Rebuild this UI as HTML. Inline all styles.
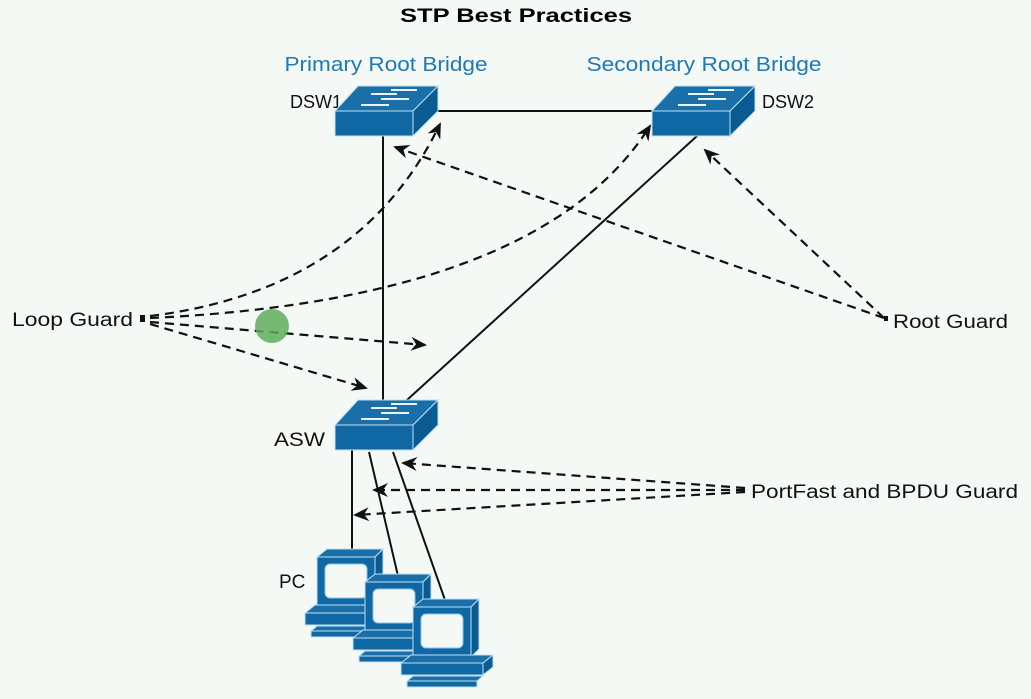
<!DOCTYPE html>
<html><head><meta charset="utf-8"><style>
html,body{margin:0;padding:0;background:#f5f9f5;}
svg{display:block;font-family:"Liberation Sans",sans-serif;}
</style></head><body>
<svg width="1031" height="699" viewBox="0 0 1031 699" xmlns="http://www.w3.org/2000/svg">
<defs>
<marker id="ah" markerWidth="16" markerHeight="14" refX="14" refY="7" orient="auto" markerUnits="userSpaceOnUse" viewBox="0 0 16 14">
<path d="M0,0 L16,7 L0,14 L5,7 Z" fill="#111"/></marker>
<g id="sw">
<polygon points="0,25 23,0 103,0 78,25" fill="#1a6fa8" stroke="#bfe0f5" stroke-width="1"/>
<polygon points="0,25 78,25 78,50 0,50" fill="#0f67a3" stroke="#bfe0f5" stroke-width="1"/>
<polygon points="78,25 103,0 103,25 78,50" fill="#0b5b93" stroke="#bfe0f5" stroke-width="1"/>
<g stroke="#e8f4fb" stroke-width="2" fill="none">
<path d="M36,8 L62,8 M46,13 L74,13 M26,19 L54,19 M56,4 L82,4"/>
</g>
</g>
<g id="pc">
<polygon points="10,0 68,0 76,-8 20,-8" fill="#1a6fa8" stroke="#bfe0f5"/>
<rect x="10" y="0" width="58" height="50" fill="#0f67a3" stroke="#bfe0f5"/>
<polygon points="68,0 76,-8 76,42 68,50" fill="#0b5b93" stroke="#bfe0f5"/>
<rect x="18" y="7" width="42" height="34" rx="5" fill="#f5f9f5" stroke="#8cc6ea"/>
<polygon points="-2,56 80,56 90,48 8,48" fill="#1a6fa8" stroke="#bfe0f5"/>
<rect x="-2" y="56" width="82" height="12" fill="#0f67a3" stroke="#bfe0f5"/>
<polygon points="80,56 90,48 90,60 80,68" fill="#0b5b93" stroke="#bfe0f5"/>
<polygon points="4,74 74,74 80,69 10,69" fill="#1a6fa8" stroke="#bfe0f5"/>
<rect x="4" y="74" width="70" height="6" fill="#0f67a3" stroke="#bfe0f5"/>
</g>
</defs>

<text x="516" y="22" font-size="19" font-weight="bold" text-anchor="middle" textLength="232" lengthAdjust="spacingAndGlyphs" fill="#000">STP Best Practices</text>
<text x="386" y="71" font-size="20" text-anchor="middle" fill="#1d7ab8" textLength="203" lengthAdjust="spacingAndGlyphs">Primary Root Bridge</text>
<text x="704" y="71" font-size="20" text-anchor="middle" fill="#1d7ab8" textLength="235" lengthAdjust="spacingAndGlyphs">Secondary Root Bridge</text>

<g font-size="19" fill="#111">
<text x="290" y="108" font-size="18">DSW1</text>
<text x="762" y="108" font-size="18">DSW2</text>
<text x="12" y="326" textLength="121" lengthAdjust="spacingAndGlyphs">Loop Guard</text>
<text x="893" y="328" textLength="115" lengthAdjust="spacingAndGlyphs">Root Guard</text>
<text x="274" y="446" textLength="51" lengthAdjust="spacingAndGlyphs">ASW</text>
<text x="751" y="498" textLength="267" lengthAdjust="spacingAndGlyphs">PortFast and BPDU Guard</text>
<text x="279" y="588">PC</text>
</g>

<g stroke="#111" stroke-width="2" fill="none">
<line x1="437" y1="111" x2="652" y2="111"/>
<line x1="383" y1="135" x2="383" y2="400"/>
<line x1="697" y1="136" x2="407" y2="400"/>
<line x1="352" y1="450" x2="352" y2="550"/>
<line x1="369" y1="452" x2="398" y2="576"/>
<line x1="393" y1="452" x2="445" y2="600"/>
</g>

<g stroke="#111" stroke-width="2.2" fill="none" stroke-dasharray="9,6" marker-end="url(#ah)">
<path d="M150,316 Q360,290 440,124"/>
<path d="M150,318 Q540,300 650,126"/>
<path d="M150,322 L425,345"/>
<path d="M150,324 L366,388"/>
<path d="M884,318 L395,147"/>
<path d="M884,318 L705,150"/>
<path d="M745,488 L403,463"/>
<path d="M745,490 L374,490"/>
<path d="M745,492 L355,515"/>
</g>
<rect x="140" y="315" width="5" height="7" fill="#111"/>
<rect x="884" y="316" width="4" height="5" fill="#111"/>

<circle cx="272" cy="326" r="17" fill="#5fae5c" opacity="0.85"/>

<use href="#sw" x="335" y="86"/>
<use href="#sw" x="652" y="86"/>
<use href="#sw" x="335" y="400"/>

<use href="#pc" x="307" y="557"/>
<use href="#pc" x="355" y="582"/>
<use href="#pc" x="403" y="607"/>
</svg>
</body></html>
